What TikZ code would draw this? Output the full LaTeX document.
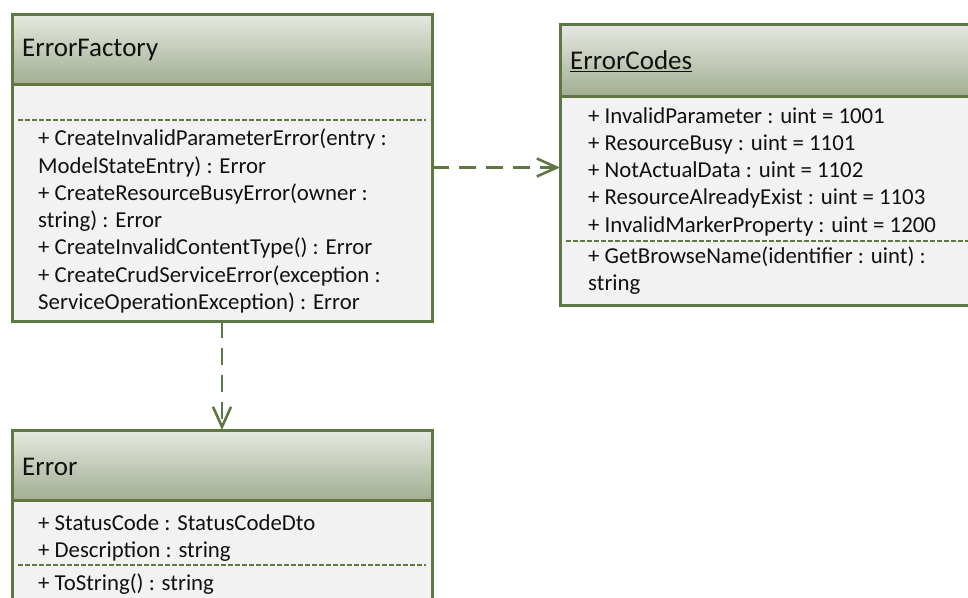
\documentclass[tikz,border=0pt]{standalone}
\usepackage{fontspec}
\setmainfont{Carlito}
\usetikzlibrary{arrows.meta}
\definecolor{umlline}{HTML}{5F7843}
\definecolor{headtop}{HTML}{E6E9E2}
\definecolor{headbot}{HTML}{A2AE92}
\definecolor{bodyfill}{HTML}{F2F2F2}
\definecolor{txt}{HTML}{111111}

\begin{document}
\begin{tikzpicture}[x=1pt,y=-1pt,
  classbody/.style={draw=umlline, line width=3pt, fill=bodyfill, inner sep=0pt, outer sep=0pt},
  classhead/.style={draw=umlline, line width=3pt, top color=headtop, bottom color=headbot, inner sep=0pt, outer sep=0pt},
  title/.style={anchor=base west, inner sep=0pt, text=txt, font=\fontsize{27}{32}\selectfont},
  member/.style={anchor=base west, inner sep=0pt, text=txt, font=\fontsize{22.8}{27.3}\selectfont},
  sep/.style={draw=umlline, line width=1.5pt, dash pattern=on 4.5pt off 2.5pt},
  dep/.style={draw=umlline, line width=2.6pt, dash pattern=on 17pt off 10pt,
              -{Straight Barb[length=20pt,width=18pt]}}
]
\useasboundingbox (0,0) rectangle (968,597);
\clip (0,0) rectangle (968,597);
\fill[white] (0,0) rectangle (968,597);

% ErrorFactory class
\node[classbody, minimum width=420pt, minimum height=307pt] (factory) at (222,167.5) {};
\node[classhead, minimum width=420pt, minimum height=70pt, anchor=north] (factoryhead) at (factory.north) {};
\node[title] (factorytitle) at (22,56) {ErrorFactory};
\draw[sep] (18,120) -- (426,120);
\foreach \t [count=\i] in {
  {+ CreateInvalidParameterError(entry :},
  {ModelStateEntry) : Error},
  {+ CreateResourceBusyError(owner :},
  {string) : Error},
  {+ CreateInvalidContentType() : Error},
  {+ CreateCrudServiceError(exception :},
  {ServiceOperationException) : Error}}
  \node[member] (fm\i) at (38,{145.7+27.3*(\i-1)}) {\t};

% ErrorCodes class
\node[classbody, minimum width=420pt, minimum height=281pt] (codes) at (770,164.5) {};
\node[classhead, minimum width=420pt, minimum height=72pt, anchor=north] (codeshead) at (codes.north) {};
\node[title] (codestitle) at (570,69) {ErrorCodes};
\draw[txt, line width=1.4pt] ([yshift=-2.2pt]codestitle.base west) -- ([yshift=-2.2pt]codestitle.base east);
\foreach \t [count=\i] in {
  {+ InvalidParameter : uint = 1001},
  {+ ResourceBusy : uint = 1101},
  {+ NotActualData : uint = 1102},
  {+ ResourceAlreadyExist : uint = 1103},
  {+ InvalidMarkerProperty : uint = 1200}}
  \node[member] (cf\i) at (588,{123+27.3*(\i-1)}) {\t};
\draw[sep] (566,241) -- (968,241);
\node[member] (cm1) at (588,263) {+ GetBrowseName(identifier : uint) :};
\node[member] (cm2) at (588,290) {string};

% Error class
\node[classbody, minimum width=420pt, minimum height=210pt] (error) at (222,535) {};
\node[classhead, minimum width=420pt, minimum height=70pt, anchor=north] (errorhead) at (error.north) {};
\node[title] (errortitle) at (22,475) {Error};
\node[member] (ef1) at (38,530.5) {+ StatusCode : StatusCodeDto};
\node[member] (ef2) at (38,557) {+ Description : string};
\draw[sep] (18,565) -- (426,565);
\node[member] (em1) at (38,590.5) {+ ToString() : string};

% dependencies
\draw[dep] (factory.east) -- (factory.east -| codes.west);
\draw[dep] (factory.south) -- (error.north);
\end{tikzpicture}
\end{document}
